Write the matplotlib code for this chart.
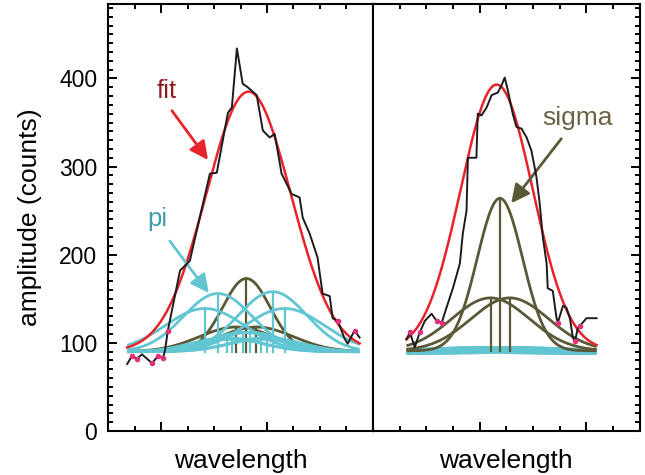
import numpy as np
import matplotlib
matplotlib.use("Agg")
import matplotlib.pyplot as plt
from matplotlib.ticker import MultipleLocator, FixedLocator

plt.rcParams["font.family"] = ["Liberation Sans", "DejaVu Sans"]

# measured spectra (black trace), left = pi-dominated, right = sigma-dominated
left_x = [0.71, 0.89, 1.08, 1.27, 1.65, 1.88, 2.06, 2.14, 2.25, 2.71, 3.08,
          3.84, 4.10, 4.52, 4.67, 4.86, 5.08, 5.27, 5.61, 5.84, 6.10, 6.29,
          6.55, 6.93, 7.23, 7.35, 7.61, 7.91, 8.10, 8.37, 8.48, 8.67, 8.93,
          9.05, 9.31, 9.50]
left_y = [76, 85, 82, 87, 77, 85, 83, 91, 114, 182, 193, 292, 293, 361, 367,
          434, 394, 390, 381, 341, 333, 337, 292, 269, 265, 242, 224, 197,
          156, 153, 128, 125, 105, 99, 114, 106]
left_dots = [1, 2, 4, 5, 6, 8, 31, 34]

right_x = [11.26, 11.39, 11.57, 11.76, 11.95, 12.20, 12.39, 12.58, 12.76,
           13.00, 13.26, 13.37, 13.51, 13.56, 13.88, 13.93, 14.07, 14.26,
           14.45, 14.68, 14.82, 14.94, 15.06, 15.24, 15.38, 15.57, 15.76,
           15.94, 16.13, 16.25, 16.37, 16.51, 16.55, 16.74, 16.88, 16.93,
           17.12, 17.25, 17.38, 17.49, 17.57, 17.68, 17.75, 18.00, 18.38]
right_y = [104, 112, 95, 112, 125, 133, 125, 123, 140, 162, 190, 224, 250,
           310, 310, 360, 358, 367, 381, 384, 392, 401, 386, 360, 345, 343,
           333, 318, 288, 258, 219, 190, 162, 159, 128, 123, 142, 140, 128,
           106, 102, 117, 119, 128, 128]
right_dots = [1, 3, 6, 7, 35, 40, 42]

# fitted gaussians: centre, height above baseline, width (sigma)
base_left, base_right = 90, 91
fit_left = (5.30, 295, 1.60)
fit_right = (14.64, 302, 1.35)

pi_left_c = [3.65, 4.14, 4.47, 4.66, 5.09, 5.35, 5.79, 5.98, 6.21, 6.67]
pi_left_h = [49, 66, 16, 14, 22, 22, 14, 16, 68, 49]
pi_left_w = [1.5, 1.3, 1.3, 1.3, 1.3, 1.3, 1.3, 1.3, 1.3, 1.5]

sig_left_c = [4.84, 5.22, 5.60]
sig_left_h = [28, 83, 28]
sig_left_w = [1.4, 0.9, 1.4]

pi_right_c = [13.4, 13.9, 14.4, 14.9, 15.4, 15.9]
pi_right_h = [2, 3, 2, 2, 3, 2]
pi_right_w = [1.3, 1.3, 1.3, 1.3, 1.3, 1.3]

sig_right_c = [14.41, 14.76, 15.13]
sig_right_h = [60, 173, 60]
sig_right_w = [1.45, 0.85, 1.45]

span_left = (0.71, 9.5)
span_right = (11.26, 18.38)

C_DATA = "#1c1c1c"
C_FIT = "#e8232b"
C_PI = "#62c6d2"
C_SIG = "#5b5837"
C_DOT = "#e0307a"
ARROW = "-|>,head_length=1.1,head_width=0.55"


def gauss(x, c, h, w):
    return h * np.exp(-0.5 * ((x - c) / w) ** 2)


def draw_components(ax, cs, hs, ws, base, span, color, lw=2.0):
    x = np.linspace(span[0], span[1], 400)
    for c, h, w in zip(cs, hs, ws):
        ax.plot(x, base + gauss(x, c, h, w), color=color, lw=lw,
                solid_capstyle="butt", zorder=2)
        ax.plot([c, c], [base, base + h], color=color, lw=1.6, zorder=2)


fig = plt.figure(figsize=(6.45, 4.75), dpi=100)
axl = fig.add_axes([0.168, 0.0926, 0.41, 0.90])
axr = fig.add_axes([0.578, 0.0926, 0.414, 0.90])

for ax, xl in ((axl, (0, 10)), (axr, (10, 20))):
    ax.set_xlim(*xl)
    ax.set_ylim(0, 485)
    for s in ax.spines.values():
        s.set_linewidth(1.5)
    ax.xaxis.set_minor_locator(MultipleLocator(1))
    ax.yaxis.set_major_locator(MultipleLocator(100))
    ax.yaxis.set_minor_locator(MultipleLocator(10))
    ax.tick_params(which="both", direction="in", width=1.4, labelbottom=False,
                   top=True, bottom=True)
    ax.tick_params(which="major", length=6.5)
    ax.tick_params(which="minor", length=3.5)
    ax.set_xlabel("wavelength", fontsize=19, labelpad=13)

axl.xaxis.set_major_locator(FixedLocator([2, 6]))
axr.xaxis.set_major_locator(FixedLocator([14, 18]))
axl.tick_params(axis="y", which="both", left=True, right=False,
                labelsize=16.5, pad=8)
axr.tick_params(axis="y", which="both", left=False, right=True,
                labelleft=False)
axl.set_ylabel("amplitude (counts)", fontsize=19, labelpad=12)

# left panel
draw_components(axl, sig_left_c, sig_left_h, sig_left_w, base_left,
                span_left, C_SIG)
draw_components(axl, pi_left_c, pi_left_h, pi_left_w, base_left,
                span_left, C_PI)
xf = np.linspace(*span_left, 400)
axl.plot(xf, base_left + gauss(xf, *fit_left), color=C_FIT, lw=1.8, zorder=3)
axl.plot(left_x, left_y, color=C_DATA, lw=1.4, zorder=4)
axl.plot([left_x[i] for i in left_dots], [left_y[i] for i in left_dots],
         "o", ms=3, color=C_DOT, zorder=5)

# right panel
draw_components(axr, pi_right_c, pi_right_h, pi_right_w, base_right - 1,
                span_right, C_PI, lw=4.5)
draw_components(axr, sig_right_c, sig_right_h, sig_right_w, base_right,
                span_right, C_SIG)
xf = np.linspace(*span_right, 400)
axr.plot(xf, base_right + gauss(xf, *fit_right), color=C_FIT, lw=1.8,
         zorder=3)
axr.plot(right_x, right_y, color=C_DATA, lw=1.4, zorder=4)
axr.plot([right_x[i] for i in right_dots], [right_y[i] for i in right_dots],
         "o", ms=3, color=C_DOT, zorder=5)

# labels with arrows
axl.text(2.21, 386, "fit", color="#8e1c1e", fontsize=18.5, ha="center",
         va="center")
axl.annotate("", xy=(3.83, 305), xytext=(2.34, 366),
             arrowprops=dict(arrowstyle=ARROW, color=C_FIT, lw=2))
axl.text(1.85, 241, "pi", color="#3f9ea8", fontsize=18.5, ha="center",
         va="center")
axl.annotate("", xy=(3.86, 154), xytext=(2.26, 218),
             arrowprops=dict(arrowstyle=ARROW, color=C_PI, lw=2))
axr.text(17.68, 355, "sigma", color="#6b6243", fontsize=19, ha="center",
         va="center")
axr.annotate("", xy=(15.12, 256), xytext=(17.12, 334),
             arrowprops=dict(arrowstyle=ARROW, color=C_SIG, lw=2))

fig.savefig("out.png", dpi=100, facecolor="white")
